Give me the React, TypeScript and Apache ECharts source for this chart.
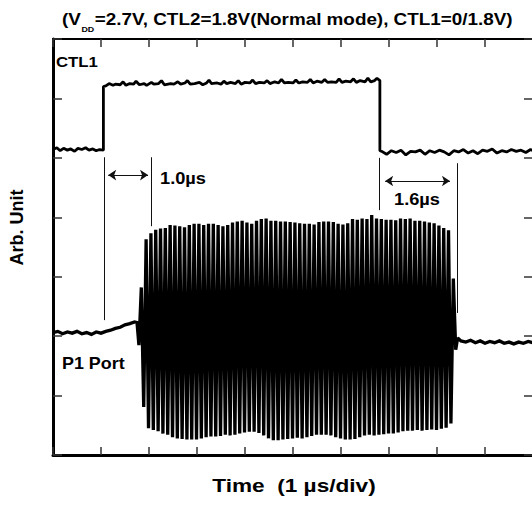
import React, { useEffect, useRef } from "react";
import * as echarts from "echarts";

// ---------- axes (time in µs, amplitude in screen divisions) ----------
const X_MIN = 0;
const X_MAX = 10;
const X_DIV = 1;
const Y_MIN = 0;
const Y_MAX = 7;
const Y_DIV = 1;

// ---------- texts ----------
const TITLE_PARTS = ["(V", "DD", "=2.7V, CTL2=1.8V(Normal mode), CTL1=0/1.8V)"];
const X_TITLE = "Time  (1 µs/div)";
const Y_TITLE = "Arb. Unit";
const CTL1_LABEL = "CTL1";
const P1_LABEL = "P1 Port";
const DELAY_ON_LABEL = "1.0µs";
const DELAY_OFF_LABEL = "1.6µs";

// ---------- CTL1 trace: [time, level] ----------
const CTL1_TRACE: [number, number][] = [
  [0, 5.14], [0.08, 5.17], [0.15, 5.12], [0.22, 5.16], [0.3, 5.13], [0.37, 5.15], [0.45, 5.11],
  [0.52, 5.16], [0.6, 5.14], [0.68, 5.17], [0.75, 5.13], [0.83, 5.15], [0.9, 5.12], [0.97, 5.14],
  [1.05, 5.13], [1.05, 6.2],
  [1.1, 6.21], [1.17, 6.25], [1.25, 6.22], [1.3, 6.24], [1.4, 6.23], [1.46, 6.28], [1.52, 6.22],
  [1.6, 6.25], [1.68, 6.24], [1.73, 6.29], [1.8, 6.23], [1.9, 6.25], [1.95, 6.22], [2.05, 6.27],
  [2.1, 6.24], [2.2, 6.25], [2.26, 6.3], [2.32, 6.23], [2.45, 6.25], [2.52, 6.24], [2.6, 6.28],
  [2.66, 6.24], [2.75, 6.26], [2.8, 6.3], [2.86, 6.24], [2.95, 6.25], [3.05, 6.27], [3.12, 6.23],
  [3.2, 6.26], [3.25, 6.31], [3.3, 6.25], [3.42, 6.26], [3.5, 6.24], [3.56, 6.29], [3.62, 6.25],
  [3.7, 6.27], [3.8, 6.25], [3.86, 6.3], [3.92, 6.24], [4.0, 6.27], [4.1, 6.26], [4.16, 6.31],
  [4.22, 6.25], [4.3, 6.27], [4.4, 6.26], [4.46, 6.3], [4.52, 6.25], [4.62, 6.28], [4.7, 6.26],
  [4.76, 6.32], [4.82, 6.26], [4.9, 6.27], [5.0, 6.26], [5.06, 6.31], [5.12, 6.26], [5.2, 6.28],
  [5.3, 6.27], [5.36, 6.32], [5.42, 6.26], [5.5, 6.29], [5.6, 6.27], [5.66, 6.32], [5.72, 6.27],
  [5.8, 6.28], [5.9, 6.27], [5.96, 6.33], [6.02, 6.27], [6.1, 6.29], [6.2, 6.28], [6.26, 6.33],
  [6.32, 6.27], [6.4, 6.3], [6.5, 6.28], [6.56, 6.34], [6.62, 6.28], [6.7, 6.3], [6.75, 6.34],
  [6.81, 6.3], [6.81, 5.12],
  [6.85, 5.11], [6.95, 5.06], [7.05, 5.12], [7.15, 5.09], [7.25, 5.13], [7.35, 5.05], [7.45, 5.11],
  [7.55, 5.1], [7.65, 5.13], [7.75, 5.06], [7.85, 5.12], [7.95, 5.09], [8.05, 5.13], [8.15, 5.1],
  [8.25, 5.05], [8.35, 5.12], [8.45, 5.1], [8.55, 5.14], [8.65, 5.08], [8.75, 5.12], [8.85, 5.07],
  [8.95, 5.13], [9.05, 5.11], [9.15, 5.15], [9.25, 5.08], [9.35, 5.12], [9.45, 5.1], [9.55, 5.14],
  [9.65, 5.11], [9.75, 5.13], [9.85, 5.09], [9.95, 5.14], [10, 5.12],
];

// ---------- P1 port trace ----------
const P1_BEFORE: [number, number][] = [
  [0, 2.06], [0.1, 2.08], [0.2, 2.04], [0.3, 2.07], [0.4, 2.05], [0.5, 2.08], [0.6, 2.04],
  [0.7, 2.06], [0.8, 2.03], [0.9, 2.07], [1.0, 2.05], [1.1, 2.08], [1.2, 2.1], [1.3, 2.13],
  [1.4, 2.15], [1.5, 2.19], [1.6, 2.21], [1.7, 2.24], [1.75, 2.23],
];
// oscilloscope samples of the burst: one sample every half period (0.05 µs)
const P1_BURST_START = 1.79;
const P1_BURST_STEP = 0.05;
const P1_BURST_DIP = 1.85;
const P1_BURST_PEAKS = [
  2.82, 3.63, 3.73, 3.79, 3.81, 3.82, 3.87, 3.86, 3.85, 3.83, 3.87, 3.89, 3.89, 3.87, 3.89, 3.89,
  3.87, 3.85, 3.87, 3.91, 3.93, 3.94, 3.91, 3.89, 3.94, 3.97, 3.98, 3.94, 3.94, 3.93, 3.93, 3.92,
  3.91, 3.9, 3.89, 3.89, 3.88, 3.92, 3.93, 3.93, 3.92, 3.89, 3.88, 3.9, 3.97, 3.96, 3.98, 3.97,
  4.04, 3.98, 3.97, 3.96, 3.96, 3.95, 3.98, 3.97, 3.98, 3.94, 3.94, 3.93, 3.91, 3.9, 3.86, 3.82,
  3.78, 2.97,
];
const P1_BURST_TROUGHS = [
  0.81, 0.45, 0.42, 0.4, 0.36, 0.34, 0.3, 0.28, 0.27, 0.26, 0.26, 0.26, 0.28, 0.3, 0.31, 0.31,
  0.32, 0.34, 0.33, 0.34, 0.36, 0.38, 0.39, 0.39, 0.37, 0.33, 0.28, 0.25, 0.25, 0.26, 0.27, 0.28,
  0.29, 0.28, 0.3, 0.32, 0.34, 0.34, 0.34, 0.33, 0.3, 0.28, 0.26, 0.26, 0.27, 0.3, 0.33, 0.34,
  0.33, 0.34, 0.35, 0.36, 0.36, 0.38, 0.4, 0.41, 0.41, 0.42, 0.41, 0.42, 0.43, 0.42, 0.44, 0.46,
  0.53,
];
const P1_AFTER: [number, number][] = [
  [8.39, 1.77], [8.43, 1.97], [8.5, 1.92], [8.6, 1.9], [8.7, 1.93], [8.8, 1.89], [8.9, 1.92],
  [9.0, 1.88], [9.1, 1.91], [9.2, 1.89], [9.3, 1.92], [9.4, 1.88], [9.5, 1.9], [9.6, 1.87],
  [9.7, 1.9], [9.8, 1.88], [9.9, 1.91], [10, 1.89],
];

// ---------- delay markers: [time, top level, bottom level] ----------
const DELAY_MARKERS: [number, number, number][] = [
  [1.07, 5.01, 2.27],
  [2.04, 5.01, 3.85],
  [6.8, 5.0, 4.12],
  [8.43, 4.91, 2.39],
];
// arrows: [from time, to time, level]
const DELAY_ARROWS: [number, number, number][] = [
  [1.15, 1.98, 4.71],
  [6.92, 8.27, 4.61],
];

const FONT = '"Liberation Sans", Arial, Helvetica, sans-serif';

function buildP1(): [number, number][] {
  const out: [number, number][] = [...P1_BEFORE];
  out.push([P1_BURST_START, P1_BURST_DIP]);
  for (let k = 0; k < P1_BURST_PEAKS.length; k++) {
    out.push([+(P1_BURST_START + (2 * k + 1) * P1_BURST_STEP).toFixed(3), P1_BURST_PEAKS[k]]);
    if (k < P1_BURST_TROUGHS.length) {
      out.push([+(P1_BURST_START + (2 * k + 2) * P1_BURST_STEP).toFixed(3), P1_BURST_TROUGHS[k]]);
    }
  }
  return out.concat(P1_AFTER);
}

export default function App() {
  const ref = useRef<HTMLDivElement>(null);

  useEffect(() => {
    if (!ref.current) return;
    const chart = echarts.init(ref.current, null, { renderer: "svg" });

    const tick = { show: true, inside: true, lineStyle: { color: "#333", width: 1.5 } };
    const xBase = {
      type: "value",
      min: X_MIN,
      max: X_MAX,
      interval: X_DIV,
      axisLabel: { show: false },
      splitLine: { show: false },
    };
    const yBase = {
      type: "value",
      min: Y_MIN,
      max: Y_MAX,
      interval: Y_DIV,
      axisLabel: { show: false },
      splitLine: { show: false },
    };

    const option: any = {
      animation: false,
      backgroundColor: "#ffffff",
      grid: { left: 53, top: 39, width: 480, height: 416, containLabel: false, outerBoundsMode: "none" },
      xAxis: [
        {
          ...xBase,
          position: "bottom",
          axisLine: { show: true, onZero: false, lineStyle: { color: "#000", width: 3 } },
          axisTick: { ...tick, length: 8 },
        },
        {
          ...xBase,
          position: "top",
          axisLine: { show: true, onZero: false, lineStyle: { color: "#000", width: 2 } },
          axisTick: { ...tick, length: 8 },
        },
      ],
      yAxis: [
        {
          ...yBase,
          position: "left",
          axisLine: { show: true, onZero: false, lineStyle: { color: "#000", width: 3 } },
          axisTick: { ...tick, length: 9 },
        },
        {
          ...yBase,
          position: "right",
          axisLine: { show: true, onZero: false, lineStyle: { color: "#000", width: 2 } },
          axisTick: { ...tick, length: 9 },
        },
      ],
      series: [
        {
          name: "markers",
          type: "lines",
          coordinateSystem: "cartesian2d",
          xAxisIndex: 0,
          yAxisIndex: 0,
          silent: true,
          symbol: ["none", "none"],
          lineStyle: { color: "#111", width: 1, opacity: 1 },
          data: DELAY_MARKERS.map(([t, a, b]) => ({ coords: [[t, a], [t, b]] })),
        },
        {
          name: "arrows",
          type: "lines",
          coordinateSystem: "cartesian2d",
          xAxisIndex: 0,
          yAxisIndex: 0,
          silent: true,
          symbol: ["arrow", "arrow"],
          symbolSize: 8,
          lineStyle: { color: "#111", width: 1.2, opacity: 1 },
          data: DELAY_ARROWS.map(([t0, t1, v]) => ({ coords: [[t0, v], [t1, v]] })),
        },
        {
          name: "CTL1",
          type: "line",
          xAxisIndex: 0,
          yAxisIndex: 0,
          symbol: "none",
          showSymbol: false,
          lineStyle: { color: "#000", width: 2.8 },
          data: CTL1_TRACE,
          z: 3,
        },
        {
          name: "P1 Port",
          type: "line",
          xAxisIndex: 0,
          yAxisIndex: 0,
          symbol: "none",
          showSymbol: false,
          lineStyle: { color: "#000", width: 3.3, join: "miter", miterLimit: 2 },
          data: buildP1(),
          z: 3,
        },
      ],
      graphic: [
        {
          type: "group",
          x: 62,
          y: 19,
          scaleX: 1.11,
          children: [
            {
              type: "text",
              x: 0,
              y: 0,
              style: { text: TITLE_PARTS[0], font: `bold 17px ${FONT}`, fill: "#000", align: "left", verticalAlign: "middle" },
            },
            {
              type: "text",
              x: 17.5,
              y: 10.5,
              style: { text: TITLE_PARTS[1], font: `bold 8px ${FONT}`, fill: "#000", align: "left", verticalAlign: "middle" },
            },
            {
              type: "text",
              x: 29.5,
              y: 0,
              style: { text: TITLE_PARTS[2], font: `bold 17px ${FONT}`, fill: "#000", align: "left", verticalAlign: "middle" },
            },
          ],
        },
        {
          type: "text",
          x: 56,
          y: 62,
          scaleX: 1.12,
          style: { text: CTL1_LABEL, font: `bold 15px ${FONT}`, fill: "#000", align: "left", verticalAlign: "middle" },
        },
        {
          type: "text",
          x: 62,
          y: 363.5,
          scaleX: 1.12,
          style: { text: P1_LABEL, font: `bold 16px ${FONT}`, fill: "#000", align: "left", verticalAlign: "middle" },
        },
        {
          type: "text",
          x: 160,
          y: 178,
          scaleX: 1.14,
          style: { text: DELAY_ON_LABEL, font: `bold 16px ${FONT}`, fill: "#000", align: "left", verticalAlign: "middle" },
        },
        {
          type: "text",
          x: 417,
          y: 199.5,
          scaleX: 1.14,
          style: { text: DELAY_OFF_LABEL, font: `bold 16px ${FONT}`, fill: "#000", align: "center", verticalAlign: "middle" },
        },
        {
          type: "text",
          x: 17,
          y: 227.5,
          rotation: Math.PI / 2,
          style: { text: Y_TITLE, font: `bold 18px ${FONT}`, fill: "#000", align: "center", verticalAlign: "middle" },
        },
        {
          type: "text",
          x: 294,
          y: 485,
          scaleX: 1.19,
          style: { text: X_TITLE, font: `bold 19px ${FONT}`, fill: "#000", align: "center", verticalAlign: "middle" },
        },
      ],
    };

    chart.setOption(option);
    return () => {
      chart.dispose();
    };
  }, []);

  return (
    <div
      ref={ref}
      style={{ position: "fixed", left: 0, top: 0, width: 532, height: 505, background: "#fff" }}
    />
  );
}
